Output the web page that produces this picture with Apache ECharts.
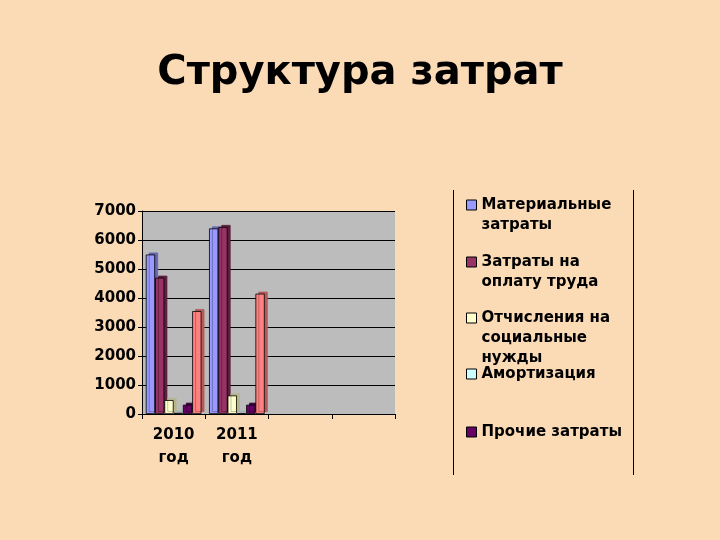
<!DOCTYPE html>
<html>
<head>
<meta charset="utf-8">
<script src="https://cdn.jsdelivr.net/npm/echarts@6/dist/echarts.min.js"></script>
<style>
html,body{margin:0;padding:0;background:#fbdab6;}
#chart{width:720px;height:540px;}
</style>
</head>
<body>
<div id="chart"></div>
<script>
var categories = ['2010\nгод', '2011\nгод', '', ''];
var seriesNames = ['Материальные затраты', 'Затраты на оплату труда', 'Отчисления на социальные нужды', 'Амортизация', 'Прочие затраты', 'Прочее'];
var legendLabels = ['Материальные\nзатраты', 'Затраты на\nоплату труда', 'Отчисления на\nсоциальные\nнужды', 'Амортизация', 'Прочие затраты'];
var materialValues = [5500, 6400];
var laborValues = [4700, 6450];
var socialValues = [480, 640];
var amortValues = [40, 20];
var otherValues = [320, 320];
var extraValues = [3550, 4150];
var yTicks = [0, 1000, 2000, 3000, 4000, 5000, 6000, 7000];

var colors = ['#9999ff', '#993366', '#ffffcc', '#ccffff', '#660066', '#ff8080'];
var sideColors = ['#6666b0', '#5e1f3f', '#b5b58e', '#8fb5b5', '#3a003a', '#b35a5a'];
var allValues = [materialValues, laborValues, socialValues, amortValues, otherValues, extraValues];

var font = '"DejaVu Sans", Verdana, sans-serif';

var series = allValues.map(function (vals, i) {
  return {
    name: seriesNames[i],
    type: 'bar',
    data: vals,
    barGap: '0%',
    barCategoryGap: '12%',
    itemStyle: {
      color: colors[i],
      borderColor: '#000',
      borderWidth: 0.8,
      shadowColor: sideColors[i],
      shadowOffsetX: 3,
      shadowOffsetY: -2,
      shadowBlur: 0
    }
  };
});

var legendCenters = [205, 262, 318, 374, 432];
var legends = legendLabels.map(function (lbl, i) {
  var n = lbl.split('\n').length;
  var prefix = '';
  for (var k = 1; k < n; k++) prefix += ' \n';
  return {
    data: [seriesNames[i]],
    orient: 'vertical',
    left: 466,
    top: legendCenters[i] - 10 * (2 * n - 1),
    padding: 0,
    itemWidth: 10,
    itemHeight: 10,
    icon: 'rect',
    selectedMode: false,
    itemStyle: { borderColor: '#000', borderWidth: 1, shadowBlur: 0, shadowOffsetX: 0, shadowOffsetY: 0 },
    formatter: function () { return prefix + lbl; },
    textStyle: {
      fontFamily: font,
      fontSize: 15,
      fontWeight: 'bold',
      color: '#000',
      lineHeight: 20
    }
  };
});

var chart = echarts.init(document.getElementById('chart'));
chart.setOption({
  backgroundColor: '#fbdab6',
  animation: false,
  title: {
    text: 'Структура затрат',
    left: 'center',
    top: 49,
    textStyle: { fontFamily: font, fontSize: 40, fontWeight: 'bold', color: '#000' }
  },
  legend: legends,
  grid: {
    left: 142, right: 325, top: 211, bottom: 126,
    show: true,
    backgroundColor: '#bcbcbc',
    borderWidth: 0
  },
  xAxis: {
    type: 'category',
    data: categories,
    axisLine: { lineStyle: { color: '#000', width: 1 } },
    axisTick: { show: true, length: 5, lineStyle: { color: '#000' } },
    axisLabel: {
      fontFamily: font, fontSize: 15, fontWeight: 'bold', color: '#000',
      lineHeight: 23, margin: 10
    }
  },
  yAxis: {
    type: 'value',
    min: 0, max: 7000, interval: 1000,
    axisLine: { show: true, lineStyle: { color: '#000', width: 1 } },
    axisTick: { show: true, length: 4, lineStyle: { color: '#000' } },
    splitLine: { lineStyle: { color: '#000', width: 1 } },
    axisLabel: {
      fontFamily: font, fontSize: 15, fontWeight: 'bold', color: '#000', margin: 6,
      formatter: function (v) { return yTicks.indexOf(v) >= 0 ? String(v) : ''; }
    }
  },
  graphic: [
    { type: 'line', shape: { x1: 453.5, y1: 190, x2: 453.5, y2: 475 }, style: { stroke: '#000', lineWidth: 1 } },
    { type: 'line', shape: { x1: 633.5, y1: 190, x2: 633.5, y2: 475 }, style: { stroke: '#000', lineWidth: 1 } }
  ],
  series: series
});
</script>
</body>
</html>
